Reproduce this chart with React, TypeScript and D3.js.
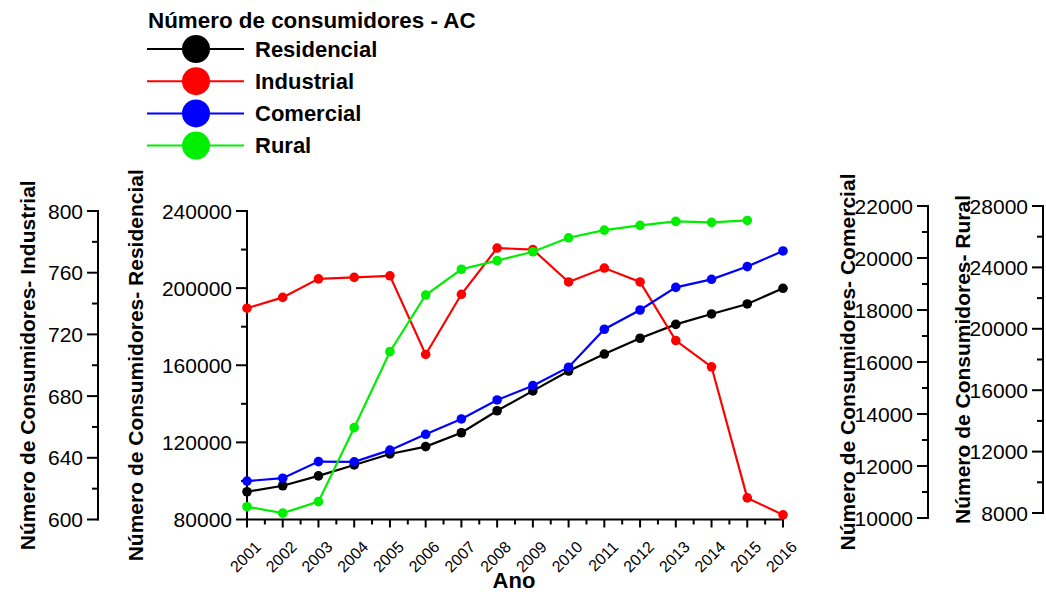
import React from "react";
import * as d3 from "d3";

// Consumer counts by class, Acre (AC), 2001–2016
const years = [2001, 2002, 2003, 2004, 2005, 2006, 2007, 2008, 2009, 2010, 2011, 2012, 2013, 2014, 2015, 2016];
const residencial = [94400, 97500, 102600, 108300, 114000, 117800, 125000, 136400, 146700, 157000, 165800, 174000, 181200, 186600, 191800, 199900];
const industrial = [737, 744, 756, 757, 758, 707, 746, 776, 775, 754, 763, 754, 716, 699, 614, 603];
const comercial = [11420, 11530, 12170, 12160, 12610, 13220, 13810, 14540, 15090, 15800, 17260, 18000, 18870, 19180, 19670, 20270];
const rural: (number | null)[] = [8410, 7990, 8740, 13560, 18510, 22200, 23880, 24440, 25020, 25930, 26430, 26740, 27000, 26930, 27060, null];

const legendTitle = "Número de consumidores - AC";
const seriesNames = ["Residencial", "Industrial", "Comercial", "Rural"];
const seriesColors = ["#000000", "#ff0000", "#0000ff", "#00ee00"];

const resTicks = [80000, 120000, 160000, 200000, 240000];
const indTicks = [600, 640, 680, 720, 760, 800];
const comTicks = [10000, 12000, 14000, 16000, 18000, 20000, 22000];
const rurTicks = [8000, 12000, 16000, 20000, 24000, 28000];

const FONT = "'Liberation Sans', Arial, Helvetica, sans-serif";

type VAxisProps = {
  x: number;
  scale: d3.ScaleLinear<number, number>;
  ticks: number[];
  minorStep: number;
  title: string;
  titleX: number;
};

function VAxis({ x, scale, ticks, minorStep, title, titleX }: VAxisProps) {
  const [d0, d1] = scale.domain();
  const minors: number[] = [];
  for (let v = d0 + minorStep; v < d1; v += minorStep * 2) minors.push(v);
  const [r0, r1] = scale.range();
  const mid = (r0 + r1) / 2;
  return (
    <g>
      <line x1={x} x2={x} y1={r0 + 1} y2={r1 - 1} stroke="#000" strokeWidth={2} />
      {ticks.map((t) => (
        <g key={t}>
          <line x1={x - 11} x2={x} y1={scale(t)} y2={scale(t)} stroke="#000" strokeWidth={2} />
          <text x={x - 15} y={scale(t)} textAnchor="end" dominantBaseline="central" fontSize={21} fontFamily={FONT} fill="#000">
            {t}
          </text>
        </g>
      ))}
      {minors.map((t) => (
        <line key={"m" + t} x1={x - 6} x2={x} y1={scale(t)} y2={scale(t)} stroke="#000" strokeWidth={2} />
      ))}
      <text
        transform={`translate(${titleX},${mid}) rotate(-90)`}
        textAnchor="middle"
        fontSize={21}
        fontWeight="bold"
        fontFamily={FONT}
        fill="#000"
      >
        {title}
      </text>
    </g>
  );
}

export default function App() {
  const x = d3.scalePoint<number>().domain(years).range([247, 783]);
  const yRes = d3.scaleLinear().domain([80000, 240000]).range([519.5, 211]);
  const yInd = d3.scaleLinear().domain([600, 800]).range([519.5, 211]);
  const yCom = d3.scaleLinear().domain([10000, 22000]).range([518, 206]);
  const yRur = d3.scaleLinear().domain([8000, 28000]).range([513, 206]);

  const series = [
    { values: residencial as (number | null)[], scale: yRes },
    { values: industrial as (number | null)[], scale: yInd },
    { values: comercial as (number | null)[], scale: yCom },
    { values: rural, scale: yRur },
  ];

  const step = x.step();
  const axisY = 519.5;

  return (
    <svg width={1046} height={592} style={{ position: "absolute", left: 0, top: 0, background: "#fff" }}>
      {/* legend */}
      <text x={148} y={28} fontSize={22.4} fontWeight="bold" fontFamily={FONT} fill="#000">
        {legendTitle}
      </text>
      {seriesNames.map((name, i) => {
        const cy = 49 + i * 32.2;
        return (
          <g key={name}>
            <line x1={147} x2={244} y1={cy} y2={cy} stroke={seriesColors[i]} strokeWidth={2} />
            <circle cx={196} cy={cy} r={14} fill={seriesColors[i]} />
            <text x={255} y={cy + 7.8} fontSize={22} fontWeight="bold" fontFamily={FONT} fill="#000">
              {name}
            </text>
          </g>
        );
      })}

      {/* y axes */}
      <VAxis x={98} scale={yInd} ticks={indTicks} minorStep={20} title="Número de Consumidores- Industrial" titleX={35} />
      <VAxis x={247} scale={yRes} ticks={resTicks} minorStep={20000} title="Número de Consumidores- Residencial" titleX={143} />
      <VAxis x={928} scale={yCom} ticks={comTicks} minorStep={1000} title="Número de Consumidores- Comercial" titleX={855} />
      <VAxis x={1043} scale={yRur} ticks={rurTicks} minorStep={2000} title="Número de Consumidores- Rural" titleX={970} />

      {/* x axis */}
      <line x1={246} x2={784} y1={axisY} y2={axisY} stroke="#000" strokeWidth={2} />
      {years.map((yr, i) => {
        const px = x(yr)!;
        return (
          <g key={yr}>
            <line x1={px} x2={px} y1={axisY} y2={axisY + 8} stroke="#000" strokeWidth={2} />
            {i < years.length - 1 && (
              <line x1={px + step / 2} x2={px + step / 2} y1={axisY} y2={axisY + 5} stroke="#000" strokeWidth={2} />
            )}
            <text
              transform={`translate(${px + 15},${548}) rotate(-45)`}
              textAnchor="end"
              fontSize={16}
              fontFamily={FONT}
              fill="#000"
            >
              {yr}
            </text>
          </g>
        );
      })}
      <text x={514} y={588} textAnchor="middle" fontSize={22} fontWeight="bold" fontFamily={FONT} fill="#000">
        Ano
      </text>

      {/* series */}
      {series.map((s, i) => {
        const pts = years
          .map((yr, j) => ({ yr, v: s.values[j] }))
          .filter((p) => p.v != null) as { yr: number; v: number }[];
        const line = d3
          .line<{ yr: number; v: number }>()
          .x((p) => x(p.yr)!)
          .y((p) => s.scale(p.v));
        return (
          <g key={seriesNames[i]}>
            <path d={line(pts) ?? ""} fill="none" stroke={seriesColors[i]} strokeWidth={2.2} />
            {pts.map((p) => (
              <circle key={p.yr} cx={x(p.yr)!} cy={s.scale(p.v)} r={4.8} fill={seriesColors[i]} />
            ))}
          </g>
        );
      })}
    </svg>
  );
}
